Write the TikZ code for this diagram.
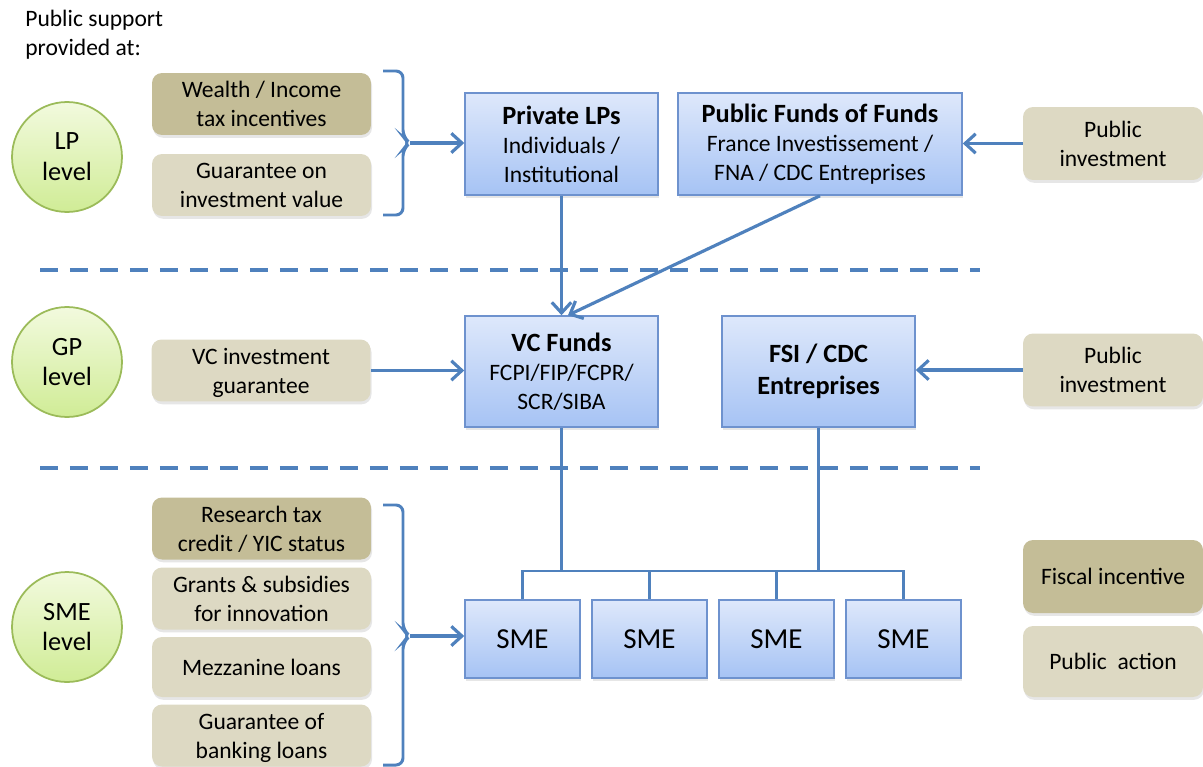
\documentclass[tikz,border=0pt]{standalone}
\usepackage{fontspec}
\setmainfont{Carlito}
\usepackage{tikz}
\usetikzlibrary{arrows.meta, positioning, shadows}
\definecolor{linkblue}{RGB}{79,129,189}
\definecolor{boxedge}{RGB}{110,146,206}
\definecolor{boxtop}{RGB}{222,232,251}
\definecolor{boxbot}{RGB}{166,195,244}
\definecolor{tandark}{RGB}{196,189,151}
\definecolor{tanlight}{RGB}{221,217,195}
\definecolor{leafgreen}{RGB}{155,187,89}
\definecolor{leafin}{RGB}{242,250,222}
\definecolor{leafout}{RGB}{208,236,150}

\begin{document}
\begin{tikzpicture}[
  x=0.02cm, y=-0.02cm,
  font=\fontsize{13.4}{16.5}\selectfont,
  level/.style={circle, draw=leafgreen, line width=1pt,
              top color=leafin, bottom color=leafout,
              minimum size=2.2cm, inner sep=0pt, align=center,
              font=\fontsize{15}{17.6}\selectfont},
  fiscal/.style={rectangle, rounded corners=0.2cm, fill=tandark,
              minimum width=4.38cm, minimum height=1.24cm, align=center,
              inner sep=2pt, text depth=-1pt,
              drop shadow={opacity=0.2, shadow xshift=0.6pt, shadow yshift=-1.6pt}},
  public/.style={fiscal, fill=tanlight},
  fund/.style={rectangle, draw=boxedge, line width=0.9pt,
              top color=boxtop, bottom color=boxbot,
              minimum width=3.86cm, minimum height=2.04cm, align=center,
              drop shadow={opacity=0.2, shadow xshift=0.6pt, shadow yshift=-1.6pt}},
  sme/.style={fund, minimum width=2.3cm, minimum height=1.56cm,
              font=\fontsize{16.5}{19}\selectfont},
  ttl/.style={font=\fontsize{15}{18}\selectfont\bfseries},
  arr/.style={-{Straight Barb[length=6pt,width=11pt]}, line width=1.8pt, linkblue},
  tree/.style={line width=1.4pt, linkblue},
  sep/.style={line width=2.2pt, linkblue, dash pattern=on 0.36cm off 0.24cm},
  brc/.style={line width=1.7pt, linkblue, rounded corners=4pt}
]
\useasboundingbox (0,0) rectangle (1203,767);

% ── Heading and level circles ──
\node[anchor=north west, align=left, inner sep=0pt] (intro) at (25,10)
  {Public support\\provided at:};
\node[level] (lplvl)  at (67,157) {LP\\level};
\node[level] (gplvl)  at (67,362) {GP\\level};
\node[level] (smelvl) at (67,627) {SME\\level};

% ── Left: support measures per level ──
\node[fiscal] (wealth)   at (261.5,104)   {Wealth / Income\\tax incentives};
\node[public] (guarval)  at (261.5,185)   {Guarantee on\\investment value};
\node[public] (vcguar)   at (261,370.5)   {VC investment\\guarantee};
\node[fiscal] (research) at (261.5,528.5) {Research tax\\credit / YIC status};
\node[public] (grants)   at (261.5,598.5) {Grants \& subsidies\\for innovation};
\node[public, minimum height=1.2cm] (mezz) at (261.5,667) {Mezzanine loans};
\node[public] (bankloan) at (261.5,735.5) {Guarantee of\\banking loans};

% ── Centre: investors and funds ──
\node[fund] (plps) at (561.5,144)
  {{\fontsize{15}{18}\selectfont\bfseries Private LPs}\\Individuals /\\Institutional};
\node[fund, minimum width=5.68cm] (fof) at (820,144)
  {{\fontsize{15}{18}\selectfont\bfseries Public Funds of Funds}\\France Investissement /\\FNA / CDC Entreprises};
\node[fund, minimum height=2.22cm] (vcf) at (561.5,371.5)
  {{\fontsize{15}{18}\selectfont\bfseries VC Funds}\\FCPI/FIP/FCPR/\\SCR/SIBA};
\node[fund, minimum height=2.22cm, ttl] (fsi) at (818.5,371.5)
  {FSI / CDC\\Entreprises};
\foreach \i/\x in {1/522.5, 2/649.5, 3/776.5, 4/903.5}
  \node[sme] (sme\i) at (\x,639) {SME};

% ── Right: public investment and legend ──
\node[public, minimum width=3.6cm, minimum height=1.46cm] (pubinv1) at (1113,143.5) {Public\\investment};
\node[public, minimum width=3.6cm, minimum height=1.46cm] (pubinv2) at (1113,370)   {Public\\investment};
\node[fiscal, minimum width=3.6cm, minimum height=1.46cm] (legfis)  at (1113,576.5) {Fiscal incentive};
\node[public, minimum width=3.6cm, minimum height=1.42cm] (legpub)  at (1113,661.5) {Public\ \ action};

% ── Level separators ──
\draw[sep] (40,270) -- (980,270);
\draw[sep] (40,468) -- (980,468);

% ── Braces ──
\draw[brc] (383,71) -- (403,71) -- (403,137) -- (410,143) coordinate (lptip)
  -- (403,149) -- (403,215) -- (383,215);
\draw[brc] (383,505) -- (403,505) -- (403,630) -- (410,636) coordinate (smetip)
  -- (403,642) -- (403,765) -- (383,765);

% ── Arrows ──
\draw[arr] (lptip) -- (plps.west |- lptip);
\draw[arr] (smetip) -- (sme1.west |- smetip);
\draw[arr] (vcguar.east) -- (vcf.west |- vcguar);
\draw[arr] (pubinv1.west) -- (fof.east |- pubinv1);
\draw[arr] (pubinv2.west) -- (fsi.east |- pubinv2);
\draw[arr] (plps.south) -- (vcf.north);
\draw[arr] (fof.south) -- ([xshift=0.13cm]vcf.north);

% ── Tree down to the SMEs ──
\coordinate (bus) at (0,571);
\draw[tree] (sme1.north) |- (bus -| sme4.north) -- (sme4.north);
\draw[tree] (sme2.north) -- (sme2.north |- bus);
\draw[tree] (sme3.north) -- (sme3.north |- bus);
\draw[tree] (vcf.south) -- (vcf.south |- bus);
\draw[tree] (fsi.south) -- (fsi.south |- bus);

\end{tikzpicture}
\end{document}
